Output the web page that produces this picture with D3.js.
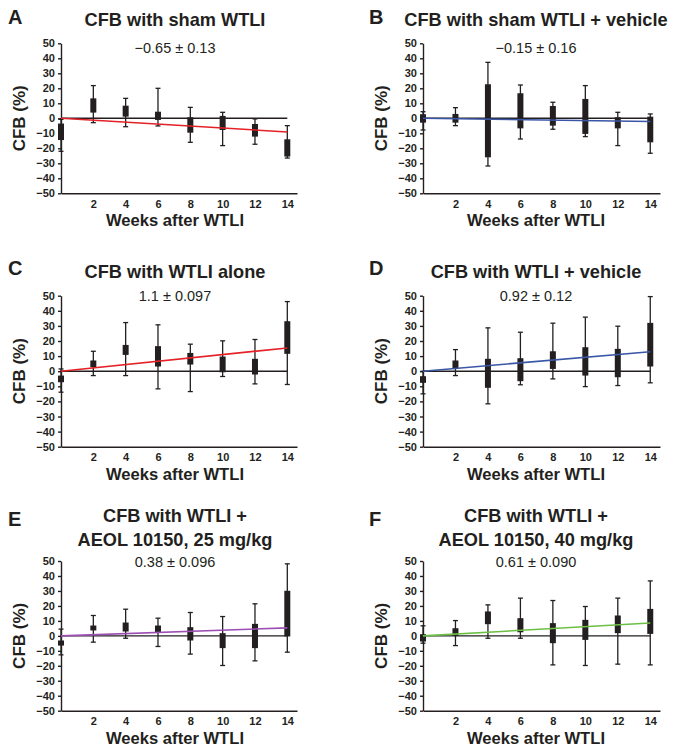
<!DOCTYPE html>
<html>
<head>
<meta charset="utf-8">
<script src="https://cdn.jsdelivr.net/npm/d3@7"></script>
<style>
  html, body { margin: 0; padding: 0; background: #fff; }
  svg { display: block; }
  text { font-family: "Liberation Sans", Arial, Helvetica, sans-serif; fill: #231f20; }
</style>
</head>
<body>
<svg id="chart" width="674" height="751"></svg>
<script>
// ---------------- DATA ----------------
const weeks = [0, 2, 4, 6, 8, 10, 12, 14];
const xTickValues = [2, 4, 6, 8, 10, 12, 14];
const yTickValues = [-50, -40, -30, -20, -10, 0, 10, 20, 30, 40, 50];

const panelLetters = ["A", "B", "C", "D", "E", "F"];
const panelTitles = [
  ["CFB with sham WTLI"],
  ["CFB with sham WTLI + vehicle"],
  ["CFB with WTLI alone"],
  ["CFB with WTLI + vehicle"],
  ["CFB with WTLI +", "AEOL 10150, 25 mg/kg"],
  ["CFB with WTLI +", "AEOL 10150, 40 mg/kg"]
];
const slopeLabels = ["\u22120.65 \u00b1 0.13", "\u22120.15 \u00b1 0.16", "1.1 \u00b1 0.097",
                     "0.92 \u00b1 0.12", "0.38 \u00b1 0.096", "0.61 \u00b1 0.090"];
const slopes = [-0.65, -0.15, 1.1, 0.92, 0.38, 0.61];
const xAxisTitle = "Weeks after WTLI";
const yAxisTitle = "CFB (%)";

// each row: [whisker low, box low, box high, whisker high] per week
const boxesA = [[-22, -14.5, -3.5, -0.7], [-2.9, 3.8, 13.3, 21.8], [-5.6, 1.1, 8.4, 13.3], [-5.1, -1.1, 4.4, 20],
                [-16, -9.6, 0.7, 7.3], [-18.2, -7.8, 1.6, 4], [-17.3, -12.2, -3.8, -0.4], [-26.5, -25.5, -14, -4.9]];
const boxesB = [[-7.8, -2.9, 2.7, 4.4], [-4.9, -2.9, 2.9, 7.1], [-31.8, -26, 22.7, 37.3], [-13.8, -6.7, 16.7, 22.2],
                [-7.3, -4.9, 8.2, 10.7], [-12.2, -10.4, 12.9, 21.8], [-18.2, -6.7, 0.7, 4], [-23.3, -16, 1.1, 2.9]];
const boxesC = [[-13.9, -7.3, -2.9, 1.5], [-2.9, 2.6, 7.1, 13.2], [-2.9, 10.8, 17.4, 32.2], [-11.7, 3.1, 16.6, 30.7],
                [-13.5, 4.4, 12.1, 17.9], [-3.5, -0.7, 9.7, 20.1], [-8.4, -2.2, 8.2, 21], [-8.8, 11.5, 33.1, 46.1]];
const boxesD = [[-15, -7.7, -3.3, 0], [-2.9, 1.5, 7.1, 14.3], [-21.6, -11, 8.2, 28.7], [-9, -6.6, 8.6, 25.8],
                [-5.1, 1.5, 13.2, 31.8], [-10.2, -2.9, 15.9, 35.8], [-9.5, -4, 14.8, 29.8], [-7.7, 3.1, 32, 49.4]];
const boxesE = [[-12.7, -6.5, -3.1, 4.5], [-4.2, 3.6, 6.9, 13.6], [-1.6, 2.9, 8.9, 17.8], [-7.1, 2.4, 6.9, 11.8],
                [-12.2, -3.1, 5.8, 15.6], [-19.8, -8.2, 1.8, 12.9], [-16.7, -8.2, 8, 21.4], [-10.9, -0.4, 30.1, 48.1]];
const boxesF = [[-4.9, -3.8, 1.1, 6.7], [-6.5, 0, 5.1, 10.2], [-1.6, 7.8, 16.3, 20.7], [-1.6, 2.4, 11.8, 25.2],
                [-19.4, -4.9, 8.5, 23.6], [-19.8, -2.7, 10.7, 19.6], [-18.9, 1.8, 13.6, 25.2], [-19.4, 1.3, 18, 36.7]];
const allBoxes = [boxesA, boxesB, boxesC, boxesD, boxesE, boxesF];

// ---------------- STYLE / LAYOUT ----------------
const lineColors = ["#e42127", "#3a56a6", "#e42127", "#3a56a6", "#9b4fb3", "#6cbf45"];
const cols = [
  { axisX: 61, endX: 297, center: 175, letterX: 8, yTitleX: 25 },
  { axisX: 423, endX: 660, center: 536, letterX: 369, yTitleX: 387 }
];
const rows = [
  { top: 43.3, bottom: 193.3, titleY: [26], subY: 53.3, letterY: 23.5 },
  { top: 295.7, bottom: 446.7, titleY: [277.7], subY: 300.7, letterY: 275 },
  { top: 561, bottom: 710.7, titleY: [521.7, 545.7], subY: 566.7, letterY: 526 }
];
const ink = "#231f20";

const svg = d3.select("#chart");
svg.append("rect").attr("width", 674).attr("height", 751).attr("fill", "#fff");

allBoxes.forEach((boxes, i) => {
  const c = cols[i % 2], r = rows[Math.floor(i / 2)];
  const g = svg.append("g");
  const x = d3.scaleLinear().domain([0, 14.6]).range([c.axisX, c.endX]);
  const y = d3.scaleLinear().domain([-50, 50]).range([r.bottom, r.top]);

  // letter
  g.append("text").attr("x", c.letterX).attr("y", r.letterY)
    .attr("font-size", 20).attr("font-weight", "bold").text(panelLetters[i]);
  // title
  panelTitles[i].forEach((t, k) => {
    g.append("text").attr("x", c.center).attr("y", r.titleY[k])
      .attr("text-anchor", "middle").attr("font-size", 18.2).attr("font-weight", "bold").text(t);
  });
  // slope label
  g.append("text").attr("x", c.center).attr("y", r.subY)
    .attr("text-anchor", "middle").attr("font-size", 14.5).text(slopeLabels[i]);

  // y axis
  const ya = g.append("g").attr("transform", `translate(${c.axisX},0)`)
    .call(d3.axisLeft(y).tickValues(yTickValues).tickSize(3).tickSizeOuter(0).tickPadding(3));
  ya.selectAll("text").attr("font-size", 11).attr("font-weight", "bold")
    .style("font-family", '"Liberation Sans", Arial, sans-serif').attr("fill", ink);
  ya.selectAll("line, path").attr("stroke", ink).attr("stroke-width", 1.4);

  // x axis
  const xa = g.append("g").attr("transform", `translate(0,${r.bottom})`)
    .call(d3.axisBottom(x).tickValues(xTickValues).tickSize(0).tickPadding(7));
  xa.selectAll("text").attr("font-size", 11).attr("font-weight", "bold")
    .style("font-family", '"Liberation Sans", Arial, sans-serif').attr("fill", ink);
  xa.selectAll("path").attr("stroke", ink).attr("stroke-width", 1.4);

  // axis titles
  g.append("text").attr("x", c.center).attr("y", r.bottom + 33)
    .attr("text-anchor", "middle").attr("font-size", 16.6).attr("font-weight", "bold").text(xAxisTitle);
  g.append("text")
    .attr("transform", `translate(${c.yTitleX},${(r.top + r.bottom) / 2}) rotate(-90)`)
    .attr("text-anchor", "middle").attr("font-size", 17).attr("font-weight", "bold").text(yAxisTitle);

  // zero line
  g.append("line").attr("x1", x(0)).attr("x2", x(14)).attr("y1", y(0)).attr("y2", y(0))
    .attr("stroke", ink).attr("stroke-width", 1.4);

  // boxes & whiskers
  const bg = g.append("g");
  boxes.forEach((b, k) => {
    const cx = x(weeks[k]);
    bg.append("line").attr("x1", cx).attr("x2", cx).attr("y1", y(b[0])).attr("y2", y(b[3]))
      .attr("stroke", ink).attr("stroke-width", 1.3);
    [b[0], b[3]].forEach(v => {
      bg.append("line").attr("x1", cx - 2.5).attr("x2", cx + 2.5).attr("y1", y(v)).attr("y2", y(v))
        .attr("stroke", ink).attr("stroke-width", 1.3);
    });
    bg.append("rect").attr("x", cx - 3).attr("width", 6)
      .attr("y", y(b[2])).attr("height", Math.max(1, y(b[1]) - y(b[2])))
      .attr("fill", ink);
  });

  // regression line
  g.append("line").attr("x1", x(0)).attr("y1", y(0))
    .attr("x2", x(14)).attr("y2", y(slopes[i] * 14))
    .attr("stroke", lineColors[i]).attr("stroke-width", 1.6);
});
</script>
</body>
</html>
